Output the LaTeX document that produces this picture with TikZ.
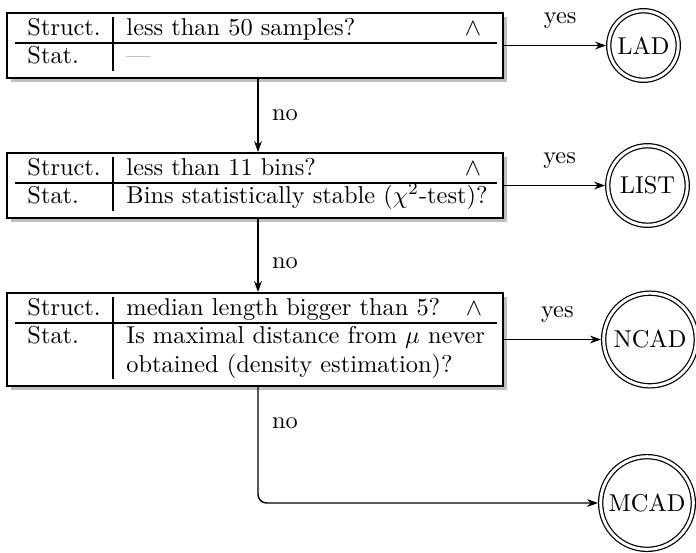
\documentclass[tikz,border=0pt]{standalone}
\usetikzlibrary{arrows.meta,shadows,fit}
\begin{document}
\begin{tikzpicture}[x=0.41pt,y=-0.41pt,
  panel/.style={draw, line width=0.8pt, fill=white, inner sep=0pt,
    drop shadow={shadow xshift=1.6pt, shadow yshift=-1.6pt, opacity=1, fill=black!25}},
  rowrule/.style={line width=0.8pt},
  colrule/.style={line width=1.1pt},
  cell/.style={anchor=base west, inner sep=0pt},
  andsym/.style={anchor=base, inner sep=0pt},
  final/.style={circle, draw, double, double distance=1.2pt, line width=0.5pt,
    inner sep=0pt, outer sep=1.1pt},
  flow/.style={line width=0.6pt, -{Stealth[length=4.5pt,width=3.2pt]}},
  lbl/.style={inner sep=0pt}]
\useasboundingbox (0,0) rectangle (696,552);

% decision panels
\node[panel, fit={(7,13) (503,78)}] (p1) {};
\node[panel, fit={(7,153) (503,218)}] (p2) {};
\node[panel, fit={(7,293) (503,386)}] (p3) {};

% panel 1
\draw[rowrule] (15,43) -- (497,43);
\draw[colrule] (113,17) -- (113,71);
\node[cell] (p1s) at (27,35) {Struct.};
\node[cell] (p1q) at (126,35) {less than 50 samples?};
\node[andsym] (p1a) at (473,35) {$\wedge$};
\node[cell] (p1t) at (27,63) {Stat.};
\node[cell] (p1d) at (126,63) {\textcolor{black!45}{---}};

% panel 2
\draw[rowrule] (15,183) -- (497,183);
\draw[colrule] (113,157) -- (113,211);
\node[cell] (p2s) at (27,175) {Struct.};
\node[cell] (p2q) at (126,175) {less than 11 bins?};
\node[andsym] (p2a) at (473,175) {$\wedge$};
\node[cell] (p2t) at (27,203) {Stat.};
\node[cell] (p2d) at (126,203) {Bins statistically stable ($\chi^2$-test)?};

% panel 3
\draw[rowrule] (15,323) -- (497,323);
\draw[colrule] (113,297) -- (113,379);
\node[cell] (p3s) at (27,315) {Struct.};
\node[cell] (p3q) at (126,315) {median length bigger than 5?};
\node[andsym] (p3a) at (474,315) {$\wedge$};
\node[cell] (p3t) at (27,343) {Stat.};
\node[cell] (p3d) at (126,343) {\parbox[t]{147pt}{\makebox[147pt][s]{Is maximal distance from $\mu$ never}\\
  obtained (density estimation)?}};

% outcomes
\node[final, minimum size=28.5pt] (lad) at (643.5,45.5) {LAD};
\node[final, minimum size=32.6pt] (list) at (647.5,185.5) {LIST};
\node[final, minimum size=38pt] (ncad) at (650,339.5) {NCAD};
\node[final, minimum size=38pt] (mcad) at (647,503) {MCAD};

% connectors
\coordinate (spine) at (258,0);
\draw[flow] (p1.south -| spine) -- node[lbl, right=5.5pt] {no} (p2.north -| spine);
\draw[flow] (p2.south -| spine) -- node[lbl, pos=0.6, right=5.5pt] {no} (p3.north -| spine);
\draw[flow, rounded corners=3.5pt] (p3.south -| spine) |- node[lbl, pos=0.155, right=5.5pt] {no} (mcad);
\draw[flow] (p1.east) -- node[lbl, pos=0.55, above=6.5pt] {yes} (lad);
\draw[flow] (p2.east) -- node[lbl, pos=0.55, above=6.5pt] {yes} (list);
\draw[flow] (p3.east) -- node[lbl, pos=0.55, above=6.5pt] {yes} (ncad);
\end{tikzpicture}
\end{document}
